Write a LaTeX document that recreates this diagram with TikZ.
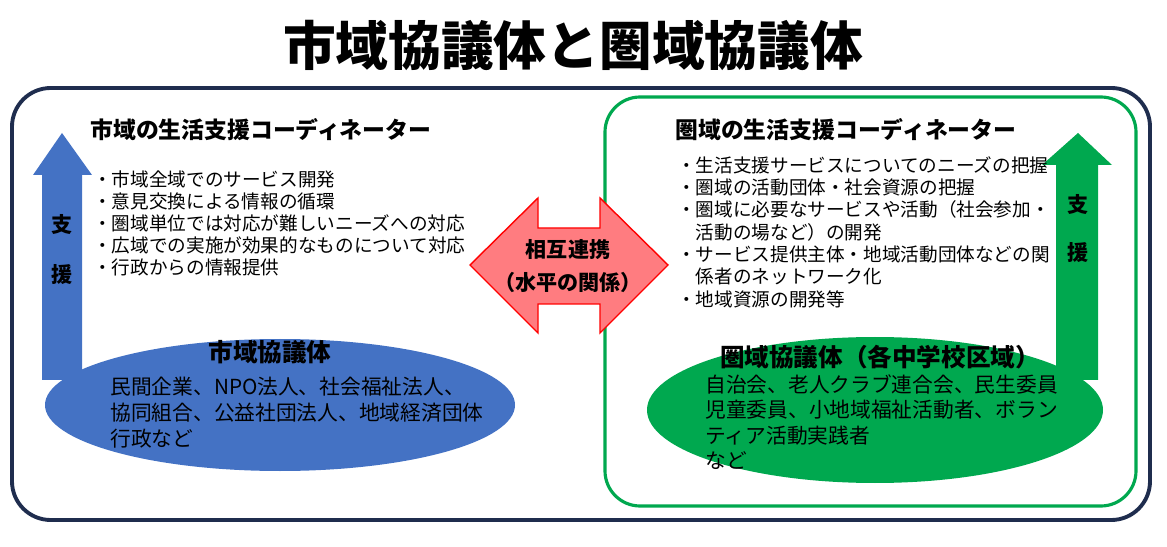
\documentclass[tikz,border=0pt]{standalone}
\usepackage{fontspec}
\setmainfont{Noto Sans CJK JP}
\usetikzlibrary{shapes.geometric}
\definecolor{navy}{HTML}{1F2D4E}
\definecolor{bblue}{HTML}{4472C4}
\definecolor{ggreen}{HTML}{00A84F}
\definecolor{lred}{HTML}{FF7C80}
\tikzset{
  item/.style={anchor=west,inner sep=0pt,font=\fontsize{10.6pt}{12pt}\selectfont},
  member/.style={anchor=west,inner sep=0pt,font=\fontsize{11.8pt}{13pt}\selectfont},
  head/.style={anchor=west,inner sep=0pt,font=\fontsize{13pt}{15pt}\selectfont\bfseries},
  kanji/.style={inner sep=0pt,font=\fontsize{12pt}{14pt}\selectfont\bfseries},
  council/.style={inner sep=0pt,font=\fontsize{14pt}{16pt}\selectfont\bfseries}
}
\begin{document}
\begin{tikzpicture}[x=0.02cm,y=-0.02cm]
\useasboundingbox (0,0) rectangle (1167,547);
\node[inner sep=0pt,font=\fontsize{30pt}{32pt}\selectfont\bfseries] (title) at (573,45) {市域協議体と圏域協議体};
\draw[navy,line width=2.2pt,rounded corners=22pt] (12,88) rectangle (1150,520);
\draw[ggreen,line width=1.8pt,rounded corners=20pt] (605,97) rectangle (1136,506);

% arrows
\fill[bblue] (42,380) -- (42,175) -- (33,175) -- (62,133) -- (92,175) -- (82,175) -- (82,380) -- cycle;
\fill[ggreen] (1056,380) -- (1056,165) -- (1042,165) -- (1078,133) -- (1112,165) -- (1098,165) -- (1098,380) -- cycle;
\draw[red,fill=lred,line width=0.8pt] (470,265) -- (538,198) -- (538,228) -- (600,228) -- (600,198) -- (668,265)
  -- (600,333) -- (600,304) -- (538,304) -- (538,333) -- cycle;
\node[kanji] (mutual) at (568,250) {相互連携};
\node[kanji] (horiz) at (568,282) {（水平の関係）};
\node[kanji] (sl1) at (62,225) {支};
\node[kanji] (sl2) at (62,275) {援};
\node[kanji] (sr1) at (1078,205) {支};
\node[kanji] (sr2) at (1078,253) {援};

% ellipses
\fill[bblue] (280,405) ellipse [x radius=235,y radius=66];
\fill[ggreen] (875,410) ellipse [x radius=228,y radius=73];

% left texts
\node[head] (lhead) at (90,130) {市域の生活支援コーディネーター};
\foreach \t [count=\i] in {市域全域でのサービス開発,意見交換による情報の循環,圏域単位では対応が難しいニーズへの対応,広域での実施が効果的なものについて対応,行政からの情報提供}
  \node[item] (li\i) at (93,157+\i*22) {・\t};
\node[council] (lcouncil) at (270,352) {市域協議体};
\node[member] (lm1) at (110,387) {民間企業、NPO法人、社会福祉法人、};
\node[member] (lm2) at (110,413) {協同組合、公益社団法人、地域経済団体};
\node[member] (lm3) at (110,439) {行政など};

% right texts
\node[head] (rhead) at (675,130) {圏域の生活支援コーディネーター};
\foreach \t [count=\i] in {・生活支援サービスについてのニーズの把握,・圏域の活動団体・社会資源の把握,・圏域に必要なサービスや活動（社会参加・,\hspace{1em}活動の場など）の開発,・サービス提供主体・地域活動団体などの関,\hspace{1em}係者のネットワーク化,・地域資源の開発等}
  \node[item] (ri\i) at (677,143+\i*22.3) {\t};
\node[council] (rcouncil) at (880,357) {圏域協議体（各中学校区域）};
\node[member] (rm1) at (705,384) {自治会、老人クラブ連合会、民生委員};
\node[member] (rm2) at (705,410) {児童委員、小地域福祉活動者、ボラン};
\node[member] (rm3) at (705,436) {ティア活動実践者};
\node[member] (rm4) at (705,461) {など};
\end{tikzpicture}
\end{document}
